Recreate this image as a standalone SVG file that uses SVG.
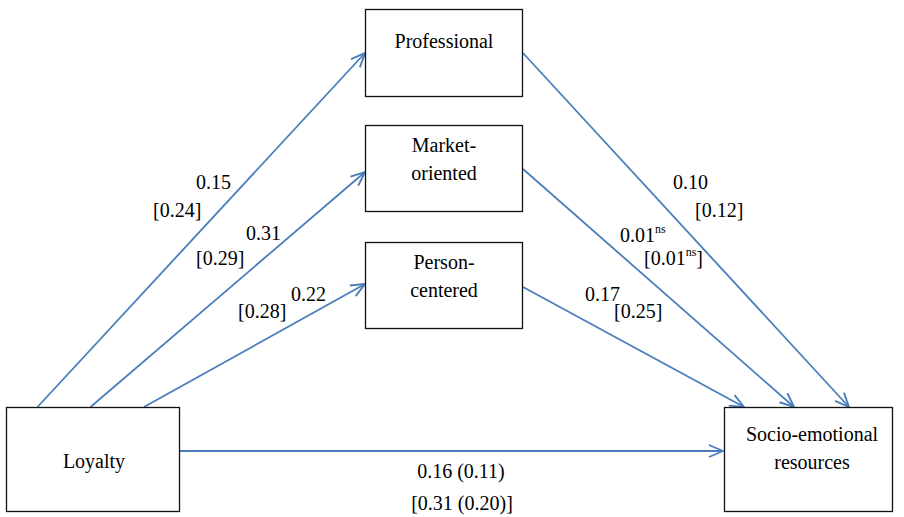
<svg xmlns="http://www.w3.org/2000/svg" width="904" height="517" viewBox="0 0 904 517" font-family="'Liberation Serif', 'Times New Roman', serif" font-size="20">
<style>
.box{fill:#fff;stroke:#111;stroke-width:1.3}
.c{text-anchor:middle}
.ln{stroke:#4a7ebb;stroke-width:1.8;fill:none;marker-end:url(#ah)}
.sup{font-size:12px}
</style>
<defs>
<marker id="ah" viewBox="0 0 16 14" refX="15" refY="7" markerWidth="16" markerHeight="14" markerUnits="userSpaceOnUse" orient="auto">
<path d="M1,1 L15,7 L1,13" fill="none" stroke="#4a7ebb" stroke-width="1.9"/>
</marker>
</defs>
<rect width="904" height="517" fill="#fff"/>
<g id="connectors">
<line class="ln" x1="37.5" y1="407" x2="365" y2="53"/>
<line class="ln" x1="90.5" y1="407" x2="365" y2="172"/>
<line class="ln" x1="144" y1="407" x2="365" y2="284"/>
<line class="ln" x1="523" y1="53" x2="849" y2="407"/>
<line class="ln" x1="523" y1="169" x2="794" y2="407"/>
<line class="ln" x1="523" y1="287" x2="744" y2="407"/>
<line class="ln" x1="180" y1="451" x2="723" y2="451"/>
</g>
<g id="labels">
<text x="196" y="189">0.15</text>
<text x="153" y="217">[0.24]</text>
<text x="246" y="240">0.31</text>
<text x="196" y="265">[0.29]</text>
<text x="291" y="301">0.22</text>
<text x="238" y="318">[0.28]</text>
<text x="673" y="189">0.10</text>
<text x="695" y="217">[0.12]</text>
<text x="620" y="242">0.01<tspan class="sup" dy="-9">ns</tspan></text>
<text x="644" y="265">[0.01<tspan class="sup" dy="-9">ns</tspan><tspan dy="9">]</tspan></text>
<text x="585" y="301">0.17</text>
<text x="614" y="318">[0.25]</text>
<text class="c" x="461" y="478">0.16 (0.11)</text>
<text class="c" x="462" y="510">[0.31 (0.20)]</text>
</g>
<g id="professional">
<rect class="box" x="365.5" y="9.5" width="157" height="87"/>
<text class="c" x="444" y="48">Professional</text>
</g>
<g id="market">
<rect class="box" x="365.5" y="125.5" width="157" height="86"/>
<text class="c" x="444" y="152">Market-</text>
<text class="c" x="444" y="180">oriented</text>
</g>
<g id="person">
<rect class="box" x="365.5" y="242.5" width="157" height="86"/>
<text class="c" x="444" y="269">Person-</text>
<text class="c" x="444" y="297">centered</text>
</g>
<g id="loyalty">
<rect class="box" x="6.5" y="407.5" width="173" height="104"/>
<text class="c" x="94" y="468">Loyalty</text>
</g>
<g id="socio">
<rect class="box" x="724.5" y="407.5" width="168" height="104"/>
<text class="c" x="812" y="441">Socio-emotional</text>
<text class="c" x="812" y="469">resources</text>
</g>
</svg>
